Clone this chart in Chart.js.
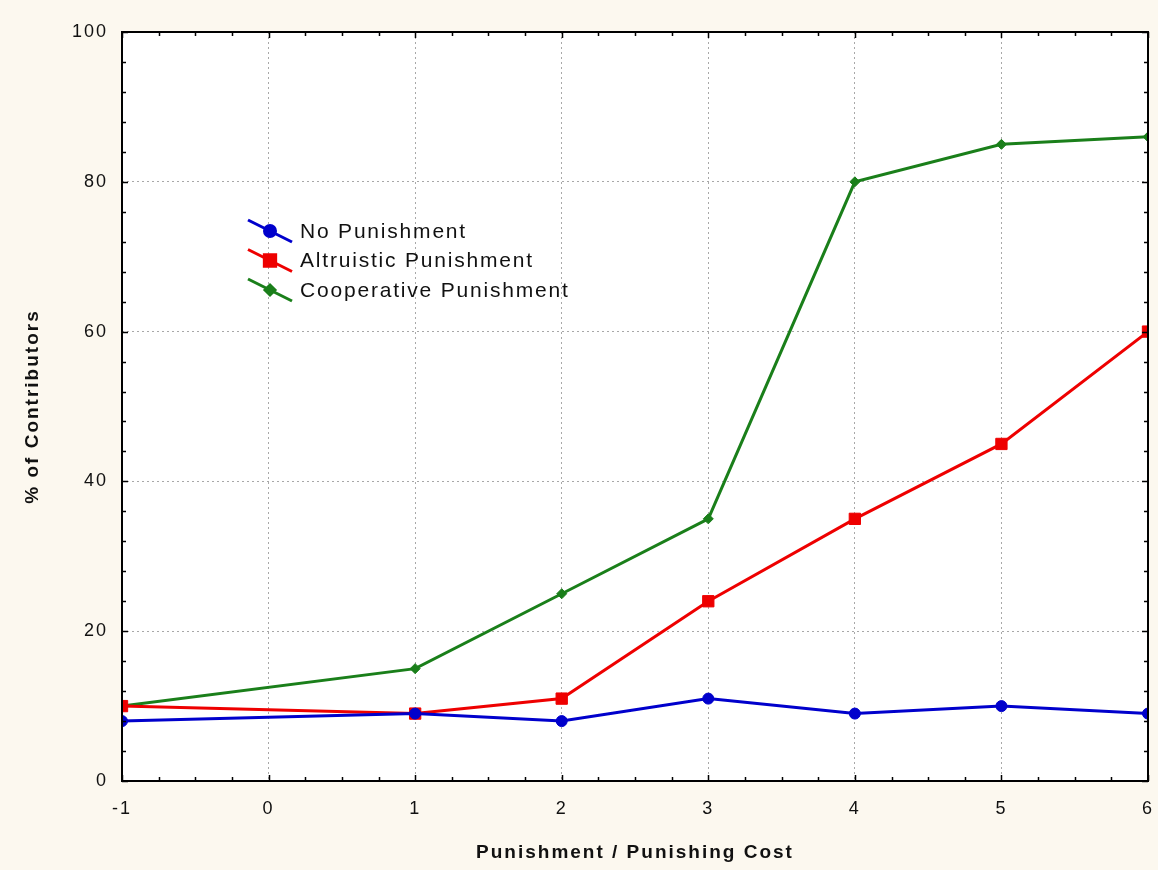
<!DOCTYPE html>
<html>
<head>
<meta charset="utf-8">
<script src="https://cdn.jsdelivr.net/npm/chart.js@4.4.0/dist/chart.umd.min.js"></script>
<style>
  html, body { margin: 0; padding: 0; background: #FCF8EF; }
  #wrap { width: 1158px; height: 870px; position: relative; }
</style>
</head>
<body>
<div id="wrap"><canvas id="c"></canvas></div>
<script>
const xValues = [-1, 1, 2, 3, 4, 5, 6];
const noPunishment = [8, 9, 8, 11, 9, 10, 9];
const altruisticPunishment = [10, 9, 11, 24, 35, 45, 60];
const cooperativePunishment = [10, 15, 25, 35, 80, 85, 86];
const seriesLabels = ['No Punishment', 'Altruistic Punishment', 'Cooperative Punishment'];
const xTitle = 'Punishment / Punishing Cost';
const yTitle = '% of Contributors';

const FONT = "'Liberation Sans', Arial, sans-serif";
const colors = ['#0000CC', '#EE0000', '#1A7F1A'];
const pointStyles = ['circle', 'rect', 'rectRot'];
const pointRadii = [5.5, 8, 5];

function pts(arr) { return xValues.map((x, i) => ({ x: x, y: arr[i] })); }

const decor = {
  id: 'decor',
  beforeUpdate(chart) { chart.ctx.letterSpacing = '2px'; },
  beforeDraw(chart) {
    const ctx = chart.ctx;
    ctx.letterSpacing = '2px';
    const a = chart.chartArea;
    ctx.save();
    ctx.fillStyle = '#FCF8EF';
    ctx.fillRect(0, 0, chart.width, chart.height);
    ctx.fillStyle = '#FFFFFF';
    ctx.fillRect(a.left, a.top, a.right - a.left, a.bottom - a.top);
    ctx.restore();
  },
  afterDatasetsDraw(chart) {
    const ctx = chart.ctx;
    const a = chart.chartArea;
    const xs = chart.scales.x, ys = chart.scales.y;
    ctx.save();
    ctx.strokeStyle = '#000';
    ctx.lineWidth = 1.5;
    ctx.setLineDash([]);
    ctx.beginPath();
    for (let v = xs.min; v <= xs.max + 1e-9; v += 0.25) {
      const px = Math.round(xs.getPixelForValue(v)) + 0.5;
      const major = Math.abs(v - Math.round(v)) < 1e-9;
      const len = major ? 6 : 4;
      ctx.moveTo(px, a.bottom); ctx.lineTo(px, a.bottom - len);
      ctx.moveTo(px, a.top); ctx.lineTo(px, a.top + len);
    }
    for (let v = ys.min; v <= ys.max + 1e-9; v += 4) {
      const py = Math.round(ys.getPixelForValue(v)) + 0.5;
      const major = v % 20 === 0;
      const len = major ? 6 : 4;
      ctx.moveTo(a.left, py); ctx.lineTo(a.left + len, py);
      ctx.moveTo(a.right, py); ctx.lineTo(a.right - len, py);
    }
    ctx.stroke();
    ctx.lineWidth = 2;
    ctx.strokeRect(a.left, a.top, a.right - a.left, a.bottom - a.top);

    const lx = a.left + 126, ly = a.top + 199, rowH = 29.5;
    chart.data.datasets.forEach((ds, i) => {
      const cy = ly + i * rowH;
      ctx.strokeStyle = ds.borderColor;
      ctx.lineWidth = 3;
      ctx.beginPath();
      ctx.moveTo(lx, cy - 11);
      ctx.lineTo(lx + 44, cy + 11);
      ctx.stroke();
      Chart.helpers.drawPoint(ctx, {
        pointStyle: ds.pointStyle, radius: ds.pointRadius, borderWidth: 1, rotation: 0
      }, lx + 22, cy);
      ctx.fillStyle = ds.backgroundColor;
      ctx.fill();
      ctx.fillStyle = '#111';
      ctx.font = '21px ' + FONT;
      ctx.textAlign = 'left';
      ctx.textBaseline = 'middle';
      ctx.letterSpacing = '1.8px';
      ctx.fillText(ds.label, lx + 52, cy + 1);
      ctx.letterSpacing = '2px';
    });
    ctx.restore();
  }
};

const datasets = [noPunishment, altruisticPunishment, cooperativePunishment].map((arr, i) => ({
  label: seriesLabels[i],
  data: pts(arr),
  borderColor: colors[i],
  backgroundColor: colors[i],
  borderWidth: 3,
  pointStyle: pointStyles[i],
  pointRadius: pointRadii[i],
  pointBorderWidth: 1,
  tension: 0
}));

new Chart(document.getElementById('c'), {
  type: 'line',
  data: { datasets: datasets },
  options: {
    responsive: true,
    maintainAspectRatio: false,
    animation: false,
    devicePixelRatio: 1,
    layout: { padding: { top: 32, right: 10, left: 0, bottom: 0 } },
    plugins: { legend: { display: false }, tooltip: { enabled: false } },
    scales: {
      x: {
        type: 'linear',
        min: -1, max: 6,
        ticks: { stepSize: 1, padding: 17, color: '#111', font: { family: FONT, size: 18 } },
        grid: { color: '#A8A8A8', lineWidth: 1, drawTicks: false },
        border: { display: false, dash: [2, 3] },
        title: { display: true, text: xTitle, color: '#111', font: { family: FONT, size: 19, weight: 'bold' }, padding: { top: 0, bottom: 6 } },
        afterFit(s) { s.height = 89; s.paddingRight = 0; s.paddingLeft = 0; }
      },
      y: {
        min: 0, max: 100,
        ticks: { stepSize: 20, padding: 14, color: '#111', font: { family: FONT, size: 18 } },
        grid: { color: '#A8A8A8', lineWidth: 1, drawTicks: false },
        border: { display: false, dash: [2, 3] },
        title: { display: true, text: yTitle, color: '#111', font: { family: FONT, size: 19, weight: 'bold' }, padding: { top: 21, bottom: 0 } },
        afterFit(s) { s.width = 122; s.paddingTop = 0; s.paddingBottom = 0; }
      }
    }
  },
  plugins: [decor]
});
</script>
</body>
</html>
